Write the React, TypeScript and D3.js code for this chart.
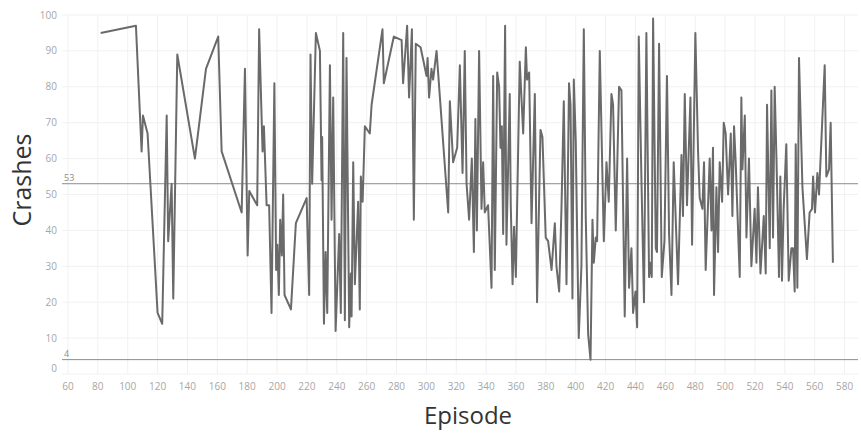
import React from "react";
import * as d3 from "d3";

// Episode numbers and crash counts for each logged run
const episodes: number[] = [
  81.9, 105.5, 109.3, 110.2, 113.3, 120, 123.1, 126.1, 127.1, 129.4, 130.5, 133.2,
  145, 152.4, 160.6, 162.9, 176.3, 178.5, 180.3, 181.4, 186.7, 188, 190.3, 191.2,
  193, 194.7, 196.3, 198.2, 199.4, 200.2, 201.2, 202.1, 203.2, 204.1, 205, 209.3,
  212.6, 219.8, 221.5, 222.4, 223.5, 226, 228.7, 229.8, 230.2, 231.4, 232.5, 233.6,
  235.4, 236.5, 237.6, 239.2, 241.6, 242.7, 244.3, 245.4, 246.5, 248.3, 249.4, 249.9,
  251, 252.1, 254.3, 255.4, 256.1, 257.3, 258.8, 262.1, 263.3, 270.6, 271.5, 278.2,
  283.4, 284.4, 287.1, 288.4, 290.3, 291.6, 292.9, 296.1, 300.1, 300.8, 301.8, 303.4,
  304.5, 306.8, 314.6, 315.7, 317.9, 320.6, 322.4, 324.2, 325.7, 326.9, 328.6, 330.4,
  331.8, 332.8, 333.8, 335.3, 336.9, 338, 339.1, 341.3, 343.6, 344.7, 345.8, 347.4,
  348.7, 349.6, 350.5, 351.4, 352.7, 353.6, 355.8, 356.5, 357.7, 358.7, 359.9, 362.5,
  364.8, 366.6, 367.4, 368.8, 370.4, 372.6, 374.1, 376.4, 377.7, 379.9, 381.5, 383.8,
  386, 387.1, 388.9, 390.5, 392, 393.8, 395.5, 396.5, 397.8, 398.7, 400, 402,
  403.8, 405.4, 406.7, 408.3, 409.9, 411.2, 412.1, 413.4, 414.3, 416.1, 418.8, 420.6,
  422.1, 423.9, 425, 426.8, 429, 430.6, 432.8, 434.4, 435.7, 437.3, 438.4, 440,
  441.1, 442.2, 444, 445.7, 447.3, 449.1, 450, 450.9, 451.8, 453.6, 454.4, 455.8,
  457.6, 459.4, 461.1, 462.5, 464.1, 465.6, 468.5, 470.8, 471.8, 473, 474.5, 476.8,
  477.9, 480.1, 481.9, 483, 484.8, 485.9, 487, 489.7, 490.9, 491.9, 492.6, 494.2,
  495.3, 496.4, 498, 499.1, 500.4, 502, 503.8, 504.9, 506, 507.1, 509.8, 510.9,
  511.6, 513.2, 514.3, 516, 517.6, 519.8, 521, 522, 523.7, 525.9, 527.2, 528.1,
  529.9, 531, 532.1, 533.2, 534.4, 536.1, 537, 538.1, 539.2, 541, 542.6, 544.4,
  545.5, 546.6, 547.3, 548.4, 549.5, 551.8, 554.8, 556.6, 558.2, 558.9, 560.2, 561.8,
  562.9, 566.7, 567.8, 569.6, 570.7, 572.2,
];

const crashes: number[] = [
  95, 97, 62, 72, 67, 17, 14, 72, 37, 53, 21, 89,
  60, 85, 94, 62, 45, 85, 33, 51, 47, 96, 62, 69,
  47, 47, 17, 81, 29, 36, 22, 43, 33, 50, 22, 18,
  42, 49, 22, 89, 53, 95, 90, 54, 66, 14, 34, 17,
  86, 43, 77, 12, 39, 17, 95, 15, 88, 13, 28, 16,
  59, 25, 48, 18, 55, 48, 69, 67, 75, 96, 81, 94,
  93, 81, 97, 77, 96, 43, 92, 91, 83, 88, 77, 85,
  82, 90, 45, 76, 59, 63, 86, 56, 90, 53, 43, 60,
  34, 71, 40, 90, 46, 59, 45, 47, 24, 83, 29, 84,
  80, 63, 69, 39, 97, 36, 78, 47, 25, 41, 27, 87,
  67, 91, 82, 84, 42, 78, 20, 68, 66, 38, 37, 29,
  42, 30, 23, 47, 76, 25, 81, 75, 21, 82, 65, 10,
  30, 96, 44, 11, 4, 43, 31, 38, 37, 90, 37, 59,
  48, 78, 75, 40, 80, 79, 16, 60, 24, 35, 17, 23,
  13, 94, 54, 20, 95, 27, 31, 27, 99, 35, 34, 92,
  27, 37, 83, 39, 22, 59, 25, 61, 44, 78, 47, 77,
  36, 95, 62, 49, 46, 59, 29, 60, 40, 63, 22, 52,
  34, 59, 48, 70, 67, 50, 67, 44, 69, 59, 27, 77,
  57, 72, 38, 60, 30, 46, 31, 52, 28, 44, 28, 75,
  35, 79, 38, 80, 60, 27, 55, 26, 46, 64, 26, 35,
  35, 23, 64, 24, 88, 52, 32, 45, 46, 55, 45, 56,
  50, 86, 55, 57, 70, 31,
];

const xTicks: number[] = d3.range(60, 581, 20);
const yTicks: number[] = d3.range(0, 101, 10);

// Reference lines: overall average and minimum
const refLines: { value: number; label: string }[] = [
  { value: 53, label: "53" },
  { value: 4, label: "4" },
];

const W = 861;
const H = 434;
const FONT = "'Open Sans', 'Noto Sans', sans-serif";

export default function App() {
  const x = d3.scaleLinear().domain([56, 589]).range([62, 858]);
  const y = d3.scaleLinear().domain([0, 100]).range([374, 15]);

  const points = episodes.map((e, i) => [e, crashes[i]] as [number, number]);
  const line = d3
    .line<[number, number]>()
    .x((d) => x(d[0]))
    .y((d) => y(d[1]));

  return (
    <svg
      width={W}
      height={H}
      style={{ position: "absolute", left: 0, top: 0, background: "#fff" }}
      fontFamily={FONT}
    >
      {/* grid */}
      <g>
        {yTicks.map((t) => (
          <line key={"gy" + t} x1={62} x2={858} y1={y(t)} y2={y(t)} stroke="#f1f1f1" strokeWidth={1} />
        ))}
        {xTicks.map((t) => (
          <line key={"gx" + t} x1={x(t)} x2={x(t)} y1={y(100)} y2={y(0)} stroke="#f1f1f1" strokeWidth={1} />
        ))}
      </g>

      {/* y tick labels */}
      <g fontSize={10} fill="#a6a6a6" textAnchor="end">
        {yTicks.map((t) => (
          <text key={"ty" + t} x={57} y={t === 0 ? y(t) - 6 : y(t)} dy="0.35em">
            {t}
          </text>
        ))}
      </g>

      {/* x tick labels */}
      <g fontSize={10} fill="#a6a6a6" textAnchor="middle">
        {xTicks.map((t) => (
          <text key={"tx" + t} x={x(t)} y={386} dy="0.35em">
            {t}
          </text>
        ))}
      </g>

      {/* reference lines */}
      {refLines.map((r) => (
        <g key={"ref" + r.label}>
          <line x1={62} x2={858} y1={y(r.value)} y2={y(r.value)} stroke="#8c8c8c" strokeWidth={1} />
          <text x={64} y={y(r.value) - 3} fontSize={9} fill="#8c8c8c">
            {r.label}
          </text>
        </g>
      ))}

      {/* crashes line */}
      <path d={line(points) || ""} fill="none" stroke="#6a6a6a" strokeWidth={2} strokeLinejoin="round" />

      {/* axis titles */}
      <text x={468} y={424} fontSize={24} fill="#333" textAnchor="middle">
        Episode
      </text>
      <text
        transform={`translate(31,180) rotate(-90)`}
        fontSize={25}
        fill="#333"
        textAnchor="middle"
      >
        Crashes
      </text>
    </svg>
  );
}
